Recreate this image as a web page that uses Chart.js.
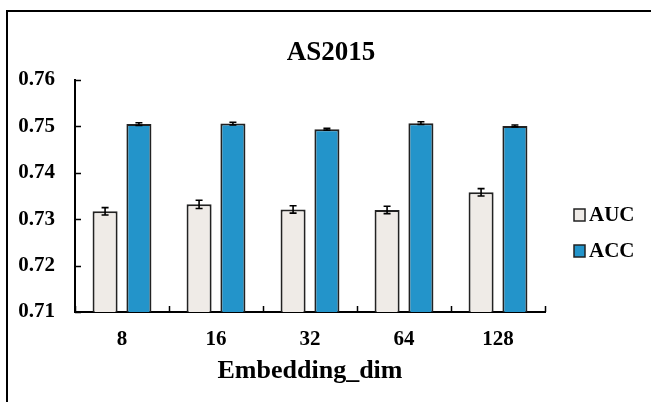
<!DOCTYPE html>
<html>
<head>
<meta charset="utf-8">
<script src="https://cdn.jsdelivr.net/npm/chart.js"></script>
<style>
  html, body { margin: 0; padding: 0; background: #fff; overflow: hidden; }
  #wrap { position: relative; width: 651px; height: 402px; }
  #frame { position: absolute; left: 6px; top: 10px; width: 700px; height: 500px; border: 2px solid #000; box-sizing: border-box; }
  #chart { position: absolute; left: 0; top: 0; }
</style>
</head>
<body>
<div id="wrap">
  <div id="frame"></div>
  <canvas id="chart" width="651" height="402"></canvas>
</div>
<script>
// Data
const dims = ['8', '16', '32', '64', '128'];
const aucValues = [0.7317, 0.7332, 0.7321, 0.7320, 0.7358];
const aucErrors = [0.0008, 0.0009, 0.0008, 0.0008, 0.0008];
const accValues = [0.7505, 0.7506, 0.7494, 0.7507, 0.7501];
const accErrors = [0.0003, 0.0003, 0.0002, 0.0003, 0.0002];
const yTicks = [0.71, 0.72, 0.73, 0.74, 0.75, 0.76];

const serif = "'Times New Roman', 'Liberation Serif', serif";

// Error bars drawn through the y scale
const errorBars = {
    id: 'errorBars',
    afterDatasetsDraw(chart) {
        const ctx = chart.ctx;
        const yScale = chart.scales.y;
        ctx.save();
        ctx.strokeStyle = '#000';
        ctx.lineWidth = 1.6;
        chart.data.datasets.forEach((ds, di) => {
            const meta = chart.getDatasetMeta(di);
            meta.data.forEach((bar, i) => {
                const v = ds.data[i];
                const e = ds.errors[i];
                const top = yScale.getPixelForValue(v + e);
                const bot = yScale.getPixelForValue(v - e);
                const x = bar.x;
                ctx.beginPath();
                ctx.moveTo(x, top); ctx.lineTo(x, bot);
                ctx.moveTo(x - 3.5, top); ctx.lineTo(x + 3.5, top);
                ctx.moveTo(x - 3.5, bot); ctx.lineTo(x + 3.5, bot);
                ctx.stroke();
            });
        });
        ctx.restore();
    }
};

// Inside tick marks (Excel style)
const innerTicks = {
    id: 'innerTicks',
    afterDraw(chart) {
        const ctx = chart.ctx;
        const xs = chart.scales.x;
        const ys = chart.scales.y;
        const area = chart.chartArea;
        ctx.save();
        ctx.strokeStyle = '#000';
        ctx.lineWidth = 1.5;
        ctx.beginPath();
        yTicks.forEach(v => {
            const y = Math.round(ys.getPixelForValue(v)) + 0.5;
            ctx.moveTo(area.left, y);
            ctx.lineTo(area.left + 6, y);
        });
        for (let i = 0; i <= dims.length; i++) {
            const x = Math.round(xs.getPixelForValue(i - 0.5)) + 0.5;
            ctx.moveTo(x, area.bottom);
            ctx.lineTo(x, area.bottom - 6);
        }
        ctx.stroke();
        ctx.restore();
    }
};

// Title and side legend
const decorations = {
    id: 'decorations',
    afterDraw(chart) {
        const ctx = chart.ctx;
        ctx.save();
        ctx.fillStyle = '#000';
        ctx.font = 'bold 27px ' + serif;
        ctx.textAlign = 'center';
        ctx.textBaseline = 'middle';
        ctx.fillText('AS2015', 331, 53);

        ctx.font = 'bold 21px ' + serif;
        ctx.textAlign = 'left';
        const rows = [215, 251];
        chart.data.datasets.forEach((ds, di) => {
            const y = rows[di];
            ctx.fillStyle = ds.backgroundColor;
            ctx.fillRect(574, y - 6, 11, 12);
            ctx.strokeStyle = '#222';
            ctx.lineWidth = 1.5;
            ctx.strokeRect(574, y - 6, 11, 12);
            ctx.fillStyle = '#000';
            ctx.fillText(ds.label, 589, y + 1);
        });
        ctx.restore();
    }
};

new Chart(document.getElementById('chart'), {
    type: 'bar',
    data: {
        labels: dims,
        datasets: [
            {
                label: 'AUC',
                data: aucValues,
                errors: aucErrors,
                backgroundColor: '#EFEBE7',
                borderColor: '#222',
                borderWidth: 2,
                categoryPercentage: 0.72,
                barPercentage: 0.74
            },
            {
                label: 'ACC',
                data: accValues,
                errors: accErrors,
                backgroundColor: '#2394CA',
                borderColor: '#222',
                borderWidth: 2,
                categoryPercentage: 0.72,
                barPercentage: 0.74
            }
        ]
    },
    options: {
        responsive: false,
        animation: false,
        layout: { padding: { left: 0, right: 106, top: 80, bottom: 0 } },
        plugins: {
            legend: { display: false },
            title: { display: false },
            tooltip: { enabled: false }
        },
        scales: {
            x: {
                grid: { display: false, drawTicks: false, offset: true },
                border: { display: true, color: '#000', width: 2 },
                ticks: { color: '#000', font: { family: serif, size: 21, weight: 'bold' }, padding: 15 },
                title: {
                    display: true,
                    text: 'Embedding_dim',
                    color: '#000',
                    font: { family: serif, size: 26, weight: 'bold' },
                    padding: { top: 4, bottom: 15 }
                },
                afterFit(scale) { scale.height = 90; }
            },
            y: {
                min: 0.71,
                max: 0.76,
                afterBuildTicks(scale) { scale.ticks = yTicks.map(v => ({ value: v })); },
                grid: { display: false, drawTicks: false },
                border: { display: true, color: '#000', width: 2 },
                ticks: {
                    color: '#000',
                    font: { family: serif, size: 21, weight: 'bold' },
                    padding: 20,
                    callback: v => v.toFixed(2)
                },
                afterFit(scale) { scale.width = 75; }
            }
        }
    },
    plugins: [errorBars, innerTicks, decorations]
});
</script>
</body>
</html>
